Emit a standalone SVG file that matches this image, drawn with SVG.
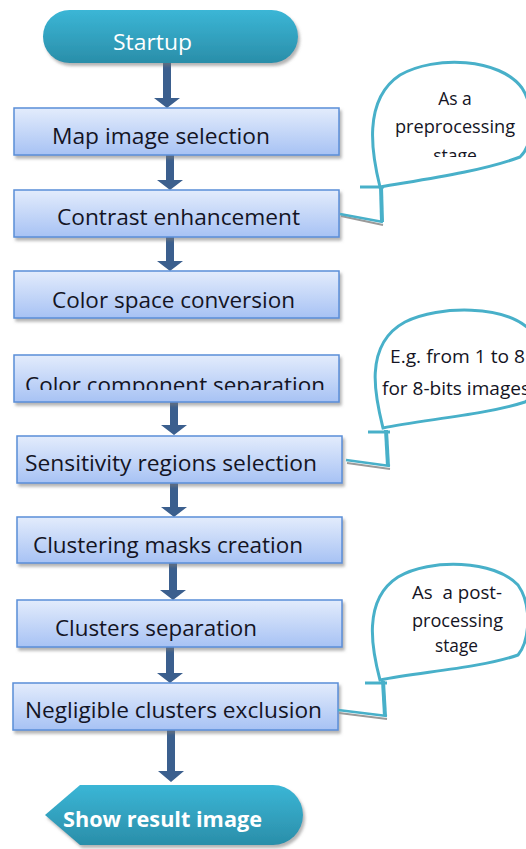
<svg xmlns="http://www.w3.org/2000/svg" width="526" height="849" viewBox="0 0 526 849">
<defs>
<linearGradient id="boxg" x1="0" y1="0" x2="0" y2="1">
<stop offset="0" stop-color="#e3ecfc"/>
<stop offset="1" stop-color="#a7c2f4"/>
</linearGradient>
<linearGradient id="tealg" x1="0" y1="0" x2="0" y2="1">
<stop offset="0" stop-color="#3bb6d6"/>
<stop offset="1" stop-color="#2a8ea9"/>
</linearGradient>
<filter id="sh" x="-10%" y="-20%" width="130%" height="150%">
<feDropShadow dx="2" dy="3" stdDeviation="1.5" flood-color="#777" flood-opacity="0.55"/>
</filter>
<clipPath id="c1"><rect x="360" y="60" width="166" height="97"/></clipPath>
<clipPath id="c4"><rect x="14" y="356" width="324" height="34"/></clipPath>
</defs>
<style>
.box{fill:url(#boxg);stroke:#5a8ed8;stroke-width:1.5;filter:url(#sh)}
.lbl{font-family:"Open Sans","Liberation Sans",sans-serif;font-size:21px;fill:#141424}
.term{fill:url(#tealg);filter:url(#sh)}
.tlbl{font-family:"Open Sans","Liberation Sans",sans-serif;font-size:21px;fill:#ffffff}
.arr{fill:#3b5f8e}
.bal{fill:#ffffff;stroke:#48b0c9;stroke-width:3}
.tail{stroke:#48b0c9;fill:none;stroke-linecap:butt}
.tsh{stroke:#9a9a9a;fill:none;stroke-width:2}
.btxt{font-family:"Open Sans","Liberation Sans",sans-serif;font-size:17.5px;fill:#141424;white-space:pre}
</style>

<g id="connectors">
<path class="arr" d="M163,63 H171 V98 H180 L167,108 L154,98 H163 Z"/>
<path class="arr" d="M166,155 H174 V180 H183 L170,190 L157,180 H166 Z"/>
<path class="arr" d="M166,237 H174 V261 H183 L170,271 L157,261 H166 Z"/>
<path class="arr" d="M170,401 H178 V425 H187 L174,435 L161,425 H170 Z"/>
<path class="arr" d="M170,483 H178 V507 H187 L174,517 L161,507 H170 Z"/>
<path class="arr" d="M169,563 H177 V590 H186 L173,600 L160,590 H169 Z"/>
<path class="arr" d="M166,647 H174 V673 H183 L170,683 L157,673 H166 Z"/>
<path class="arr" d="M167,730 H175 V771 H184 L171,782 L158,771 H167 Z"/>
</g>

<g id="startup">
<rect class="term" x="43" y="10" width="255" height="53" rx="26.5"/>
<text class="tlbl" x="113" y="50" textLength="79" lengthAdjust="spacingAndGlyphs">Startup</text>
</g>

<g id="n1">
<rect class="box" x="14" y="108" width="325" height="47"/>
<text class="lbl" x="52" y="144" textLength="218" lengthAdjust="spacingAndGlyphs">Map image selection</text>
</g>
<g id="n2">
<rect class="box" x="14" y="190" width="325" height="47"/>
<text class="lbl" x="57" y="225" textLength="243" lengthAdjust="spacingAndGlyphs">Contrast enhancement</text>
</g>
<g id="n3">
<rect class="box" x="14" y="271" width="325" height="47"/>
<text class="lbl" x="52" y="308" textLength="243" lengthAdjust="spacingAndGlyphs">Color space conversion</text>
</g>
<g id="n4">
<rect class="box" x="14" y="355" width="325" height="47"/>
<text class="lbl" x="25" y="393" textLength="300" lengthAdjust="spacingAndGlyphs" clip-path="url(#c4)">Color component separation</text>
</g>
<g id="n5">
<rect class="box" x="17" y="436" width="325" height="47"/>
<text class="lbl" x="25" y="471" textLength="292" lengthAdjust="spacingAndGlyphs">Sensitivity regions selection</text>
</g>
<g id="n6">
<rect class="box" x="17" y="517" width="325" height="46"/>
<text class="lbl" x="33" y="553" textLength="270" lengthAdjust="spacingAndGlyphs">Clustering masks creation</text>
</g>
<g id="n7">
<rect class="box" x="17" y="600" width="325" height="47"/>
<text class="lbl" x="55" y="636" textLength="202" lengthAdjust="spacingAndGlyphs">Clusters separation</text>
</g>
<g id="n8">
<rect class="box" x="13" y="683" width="325" height="47"/>
<text class="lbl" x="25" y="718" textLength="297" lengthAdjust="spacingAndGlyphs">Negligible clusters exclusion</text>
</g>

<g id="result">
<path class="term" d="M45,815 L80,785 H273 A30,30 0 0 1 273,845 H80 Z"/>
<text class="tlbl" x="63" y="827" font-weight="bold" textLength="199" lengthAdjust="spacingAndGlyphs">Show result image</text>
</g>

<g id="callout1">
<path class="tsh" d="M341,216 L383,225"/>
<path class="tail" stroke-width="2.5" d="M340,214 L383,222"/>
<path class="tail" stroke-width="4" d="M381,187 L382,222"/>
<path class="tail" stroke-width="3" d="M360,187 H384"/>
<path class="bal" d="M380,187 C372,155 362,100 400,75 C435,55 500,58 522,88 C536,110 533,145 520,157 C480,172 420,180 380,187 Z"/>
<g clip-path="url(#c1)">
<text class="btxt" x="455" y="105" text-anchor="middle">As a</text>
<text class="btxt" x="395" y="133" textLength="120" lengthAdjust="spacingAndGlyphs">preprocessing</text>
<text class="btxt" x="455" y="162" text-anchor="middle">stage</text>
</g>
</g>

<g id="callout2">
<path class="tsh" d="M347,463 L390,469"/>
<path class="tail" stroke-width="2.5" d="M346,460 L390,466"/>
<path class="tail" stroke-width="4" d="M386,430 L388,466"/>
<path class="tail" stroke-width="3" d="M368,432 H390"/>
<path class="bal" d="M383,428 C376,400 362,345 405,322 C440,305 505,305 530,330 C550,355 545,390 525,402 C485,415 420,420 383,428 Z"/>
<text class="btxt" x="390" y="363" textLength="135" lengthAdjust="spacingAndGlyphs">E.g. from 1 to 8</text>
<text class="btxt" x="382" y="395" textLength="148" lengthAdjust="spacingAndGlyphs">for 8-bits images</text>
</g>

<g id="callout3">
<path class="tsh" d="M339,713 L387,719"/>
<path class="tail" stroke-width="2.5" d="M338,710 L387,716"/>
<path class="tail" stroke-width="4" d="M383,681 L385,716"/>
<path class="tail" stroke-width="3" d="M365,683 H387"/>
<path class="bal" d="M380,680 C372,650 362,600 398,577 C430,558 495,560 518,585 C532,605 530,640 518,655 C480,668 420,672 380,680 Z"/>
<text class="btxt" x="412" y="599" textLength="90" lengthAdjust="spacingAndGlyphs" xml:space="preserve">As  a post-</text>
<text class="btxt" x="412" y="627" textLength="91" lengthAdjust="spacingAndGlyphs">processing</text>
<text class="btxt" x="435" y="652" textLength="43" lengthAdjust="spacingAndGlyphs">stage</text>
</g>
</svg>
